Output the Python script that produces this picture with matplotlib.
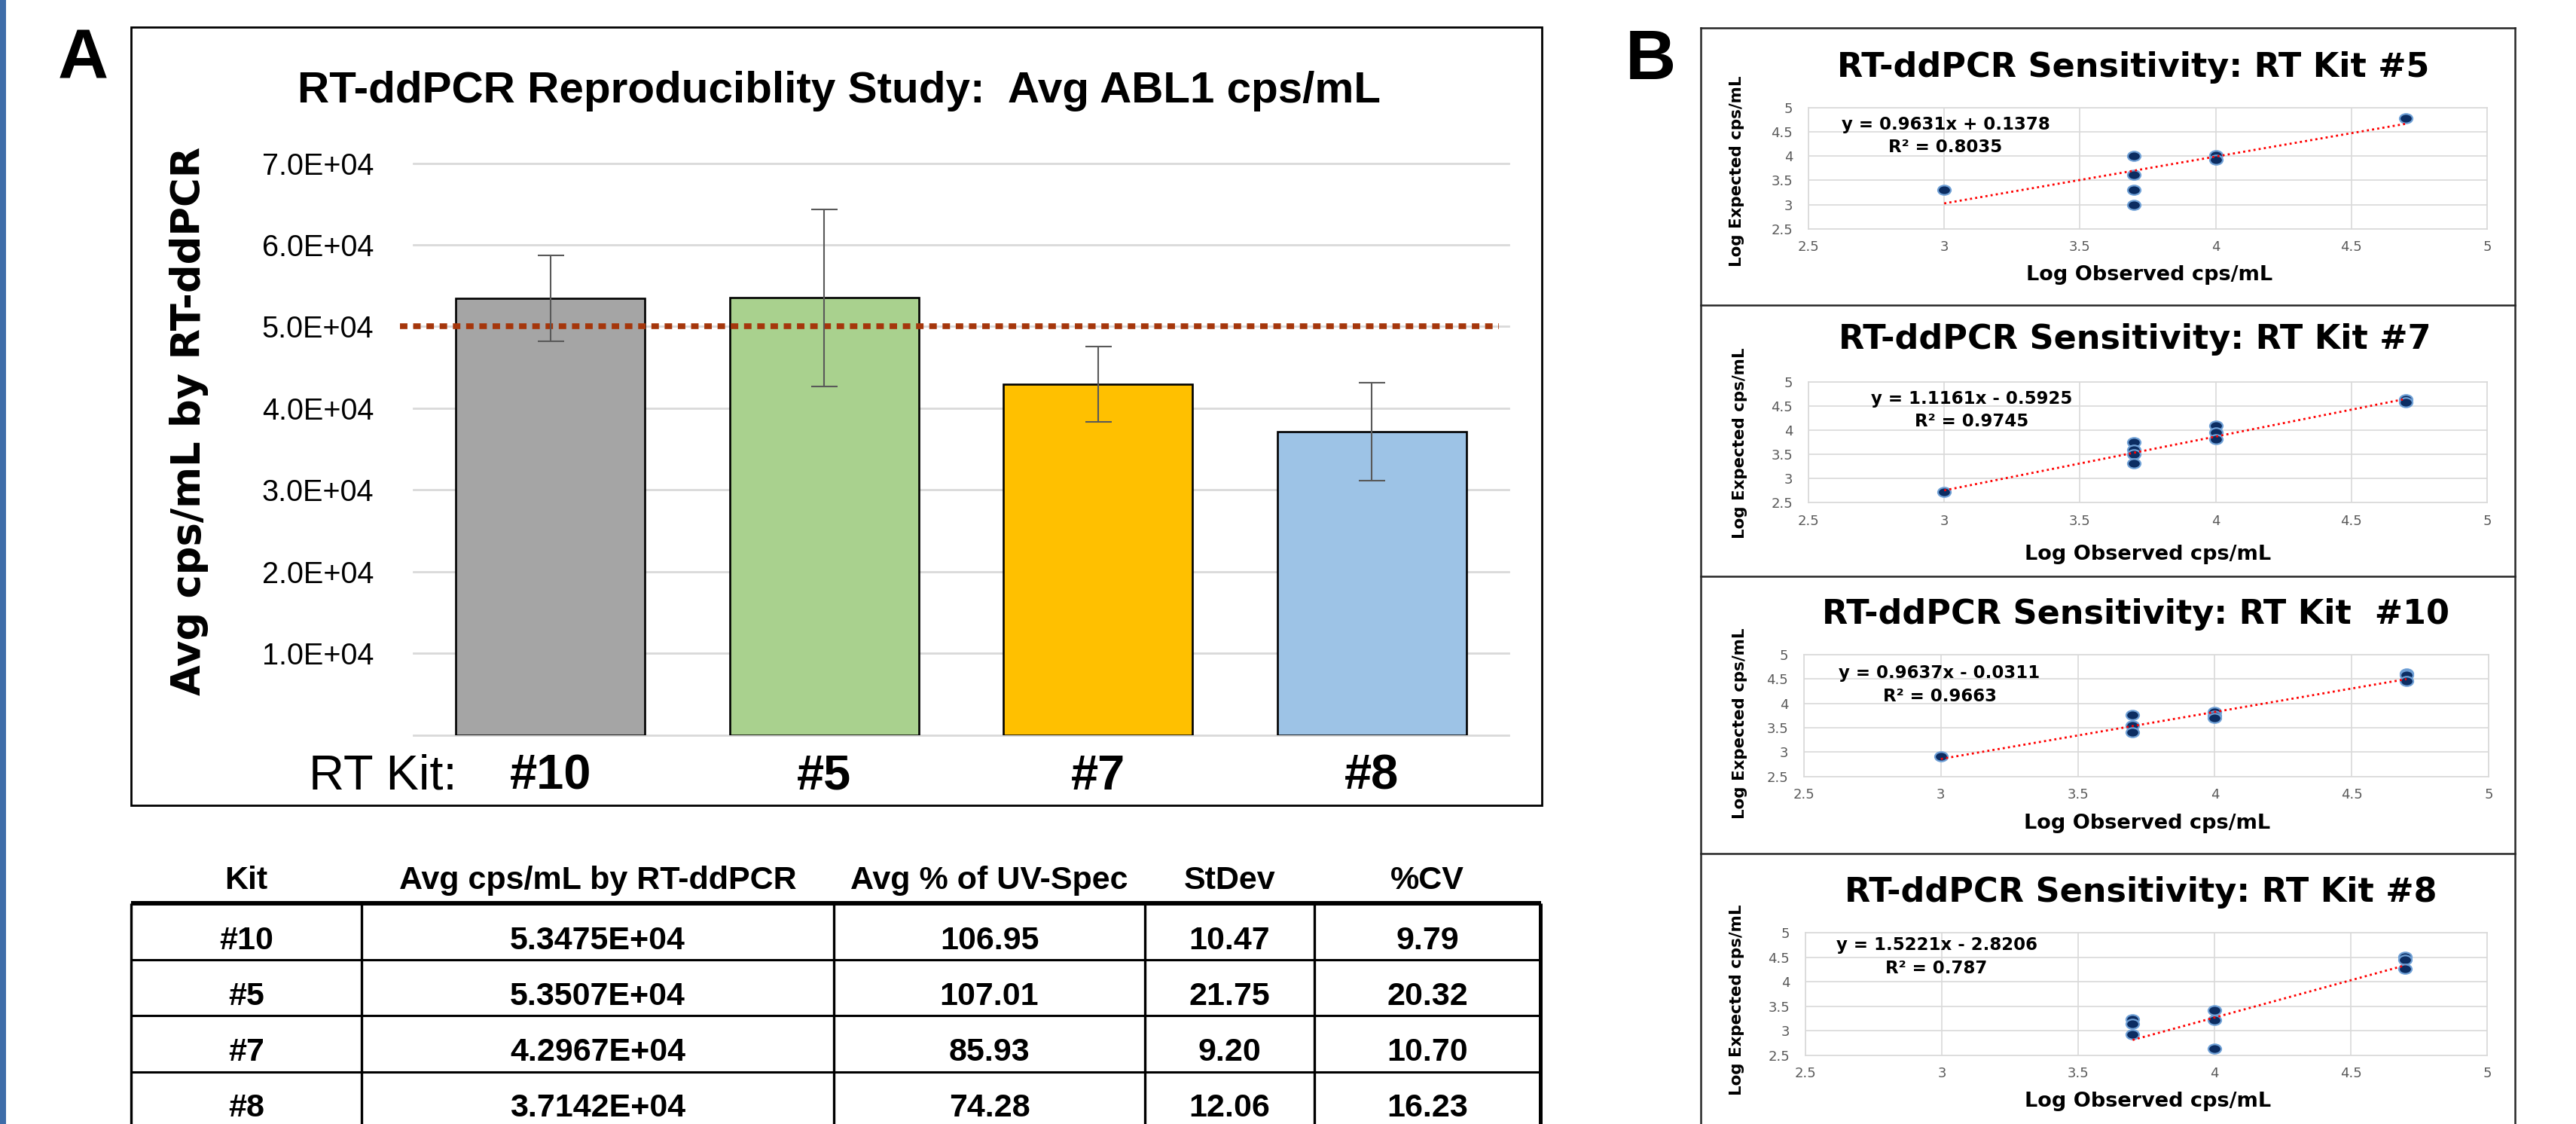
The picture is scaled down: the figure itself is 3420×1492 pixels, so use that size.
import matplotlib
matplotlib.use("Agg")
import matplotlib.pyplot as plt
import numpy as np
from matplotlib.path import Path
from matplotlib.patches import Rectangle
from matplotlib.transforms import blended_transform_factory

W, H, DPI = 3420, 1492, 100

ARIAL = ["Liberation Sans", "DejaVu Sans"]
VERD = ["DejaVu Sans"]
plt.rcParams["font.family"] = ARIAL

# ---- Panel A: reproducibility ----
kits = ["#10", "#5", "#7", "#8"]
avg_cps = [5.3475e4, 5.3507e4, 4.2967e4, 3.7142e4]
avg_pct_uv = [106.95, 107.01, 85.93, 74.28]
stdev_pct = [10.47, 21.75, 9.20, 12.06]
cv_pct = [9.79, 20.32, 10.70, 16.23]
err_cps = [5235, 10875, 4600, 6030]
target_cps = 5.0e4
a_yticks = [0, 1e4, 2e4, 3e4, 4e4, 5e4, 6e4, 7e4]
bar_colors = ["#A5A5A5", "#A9D18E", "#FFC000", "#9DC3E6"]
table_headers = ["Kit", "Avg cps/mL by RT-ddPCR", "Avg % of UV-Spec", "StDev", "%CV"]

# ---- Panel B: sensitivity per kit ----
b_kits = ["#5", "#7", " #10", "#8"]
b_x = [
    [3, 3.7, 3.7, 3.7, 3.7, 4, 4, 4.7],
    [3, 3.7, 3.7, 3.7, 3.7, 4, 4, 4, 4.7, 4.7],
    [3, 3.7, 3.7, 3.7, 4, 4, 4, 4.7, 4.7, 4.7],
    [3.7, 3.7, 3.7, 4, 4, 4, 4.7, 4.7, 4.7],
]
b_y = [
    [3.31, 4.01, 3.61, 3.30, 2.99, 4.02, 3.92, 4.78],
    [2.72, 3.76, 3.60, 3.50, 3.32, 4.10, 3.96, 3.82, 4.65, 4.59],
    [2.92, 3.76, 3.54, 3.40, 3.82, 3.75, 3.70, 4.62, 4.58, 4.46],
    [3.24, 3.14, 2.92, 3.42, 3.21, 2.63, 4.51, 4.45, 4.27],
]
slopes = [0.9631, 1.1161, 0.9637, 1.5221]
intercepts = [0.1378, -0.5925, -0.0311, -2.8206]
r_squared = [0.8035, 0.9745, 0.9663, 0.787]
b_ticks = [2.5, 3, 3.5, 4, 4.5, 5]

fig = plt.figure(figsize=(W / DPI, H / DPI), dpi=DPI)

# full-figure canvases in pixel units: one below the charts, one above
def px_canvas(z):
    c = fig.add_axes([0, 0, 1, 1], zorder=z)
    c.set_xlim(0, W)
    c.set_ylim(H, 0)
    c.axis("off")
    return c

cv = px_canvas(0)
top = px_canvas(5)


def px_axes(x0, y0, x1, y1):
    return fig.add_axes([x0 / W, 1 - y1 / H, (x1 - x0) / W, (y1 - y0) / H], zorder=2)


# left blue strip, panel A frame, panel letters
cv.add_patch(Rectangle((0, 0), 8, H, color="#3E6DA9", lw=0))
cv.add_patch(Rectangle((174, 36), 2047 - 174, 1069 - 36, fill=False, lw=2, ec="black"))
cv.text(110, 103, "A", ha="center", va="baseline", fontsize=67, fontweight="bold")
cv.text(2191, 105, "B", ha="center", va="baseline", fontsize=67, fontweight="bold")

# ---- bar chart ----
ax = px_axes(549, 216.6, 2003, 975.7)
ax.set_facecolor("none")
xpos = np.arange(len(kits))
ax.bar(xpos, avg_cps, width=0.69, color=bar_colors, edgecolor="black", linewidth=1.9, zorder=2)
ax.errorbar(xpos, avg_cps, yerr=err_cps, fmt="none", ecolor="#595959",
            elinewidth=1.5, capsize=12.6, capthick=1.5, zorder=4)
trans = blended_transform_factory(ax.transAxes, ax.transData)
ax.plot([-0.0124, 0.991], [target_cps, target_cps], transform=trans, color="#A5360B",
        lw=5.5, ls=(0, (1.3, 1.0)), dash_capstyle="butt", clip_on=False, zorder=3)
ax.set_xlim(-0.5, len(kits) - 0.5)
ax.set_ylim(0, 7e4)
ax.set_yticks(a_yticks)
ax.yaxis.set_major_formatter(lambda v, p: "" if v == 0 else f"{v:.1E}")
ax.grid(axis="y", color="#D9D9D9", lw=2)
for gl in ax.get_ygridlines():
    gl.set_clip_on(False)
ax.set_axisbelow(True)
for s in ax.spines.values():
    s.set_visible(False)
ax.set_xticks(xpos, kits)
ax.tick_params(axis="x", length=0, pad=52, labelsize=46.8)
ax.tick_params(axis="y", length=0, pad=38, labelsize=28.5)
for t in ax.get_xticklabels():
    t.set_fontweight("bold")
    t.set_verticalalignment("baseline")

cv.text(410, 1048, "RT Kit:", ha="left", va="baseline", fontsize=46.8)
cv.text(1114, 136, "RT-ddPCR Reproduciblity Study:  Avg ABL1 cps/mL",
        ha="center", va="baseline", fontsize=42, fontweight="bold")
cv.text(251, 559, "Avg cps/mL by RT-ddPCR", rotation=90, ha="center", va="center",
        fontsize=38, fontweight="bold", family=VERD)

# ---- table ----
col_edges = [174, 480, 1107, 1520, 1745, 2045]
col_mid = [(a + b) / 2 for a, b in zip(col_edges[:-1], col_edges[1:])]
row_base = [1260, 1334, 1408, 1482]
row_lines = [1274, 1348, 1423]
for c, hdr in zip(col_mid, table_headers):
    cv.text(c, 1180, hdr, ha="center", va="baseline", fontsize=31, fontweight="bold")
for r, yb in enumerate(row_base):
    cells = [kits[r], f"{avg_cps[r]:.4E}", f"{avg_pct_uv[r]:.2f}",
             f"{stdev_pct[r]:.2f}", f"{cv_pct[r]:.2f}"]
    for c, txt in zip(col_mid, cells):
        cv.text(c, yb, txt, ha="center", va="baseline", fontsize=31, fontweight="bold")
cv.plot([174, 2046], [1199, 1199], color="black", lw=4.3, solid_capstyle="butt")
for yl in row_lines:
    cv.plot([174, 2045], [yl, yl], color="black", lw=2.2, solid_capstyle="butt")
for i, xl in enumerate(col_edges):
    cv.plot([xl, xl], [1199, H], color="black", lw=3.6 if i == len(col_edges) - 1 else 2.4,
            solid_capstyle="butt")

# ---- panel B frame ----
bk = "#262626"
cv.plot([2258, 2258], [37, H], color=bk, lw=1.8)
cv.plot([3339, 3339], [37, H], color=bk, lw=1.8)
for yl in [37, 405, 765, 1133]:
    cv.plot([2258, 3339], [yl, yl], color=bk, lw=1.8)

b_axes_px = [(2401, 142.7, 3302, 304), (2401, 507.3, 3302, 667.3),
             (2395, 869, 3304, 1030.7), (2397, 1238, 3302, 1400.7)]
title_pos = [(2832, 101.7), (2834, 463.3), (2835, 828), (2842, 1197)]
eq_pos = [(2583, 171.7, 201.7), (2618, 536, 566), (2575, 900, 930.7), (2571, 1260.7, 1291.7)]
ylab_pos = [(2306, 227), (2310, 588), (2310, 960), (2306, 1327.5)]
xlab_pos = [(2854, 371.7), (2852, 743), (2851, 1100), (2852, 1469)]

circ = Path.unit_circle()
ell = Path(circ.vertices * np.array([1.0, 0.73]), circ.codes)

for i in range(4):
    bx = px_axes(*b_axes_px[i])
    bx.scatter(b_x[i], b_y[i], marker=ell, s=150, facecolor="#0C2D62",
               edgecolor="#6FA0D6", linewidth=1.6, zorder=3)
    xs = np.array([min(b_x[i]), max(b_x[i])])
    bx.plot(xs, slopes[i] * xs + intercepts[i], color="#FF0000", lw=2,
            ls=(0, (1, 1.5)), zorder=4)
    bx.set_xlim(2.5, 5)
    bx.set_ylim(2.5, 5)
    bx.set_xticks(b_ticks)
    bx.set_yticks(b_ticks)
    bx.xaxis.set_major_formatter(lambda v, p: f"{v:g}")
    bx.yaxis.set_major_formatter(lambda v, p: f"{v:g}")
    bx.grid(color="#D9D9D9", lw=1.2)
    bx.set_axisbelow(True)
    for s in bx.spines.values():
        s.set_color("#D9D9D9")
        s.set_linewidth(1.2)
    bx.tick_params(length=0, labelsize=13, labelcolor="#595959")
    bx.tick_params(axis="x", pad=11)
    bx.tick_params(axis="y", pad=15)
    for t in bx.get_xticklabels() + bx.get_yticklabels():
        t.set_fontfamily(VERD)

    tx, ty = title_pos[i]
    cv.text(tx, ty, f"RT-ddPCR Sensitivity: RT Kit {b_kits[i]}", ha="center", va="baseline",
            fontsize=32, fontweight="bold", family=VERD)
    sign = "+" if intercepts[i] >= 0 else "-"
    ex, ey1, ey2 = eq_pos[i]
    top.text(ex, ey1, f"y = {slopes[i]:.4f}x {sign} {abs(intercepts[i]):.4f}", ha="center",
             va="baseline", fontsize=16.5, fontweight="bold", family=VERD)
    top.text(ex, ey2, f"R\u00b2 = {r_squared[i]:g}", ha="center", va="baseline",
             fontsize=16.5, fontweight="bold", family=VERD)
    lx, ly = ylab_pos[i]
    cv.text(lx, ly, "Log Expected cps/mL", rotation=90, ha="center", va="center",
            fontsize=15.4, fontweight="bold", family=VERD)
    xx, xy = xlab_pos[i]
    cv.text(xx, xy, "Log Observed cps/mL", ha="center", va="baseline",
            fontsize=19.5, fontweight="bold", family=VERD)

fig.savefig("out.png", dpi=DPI, facecolor="white")
